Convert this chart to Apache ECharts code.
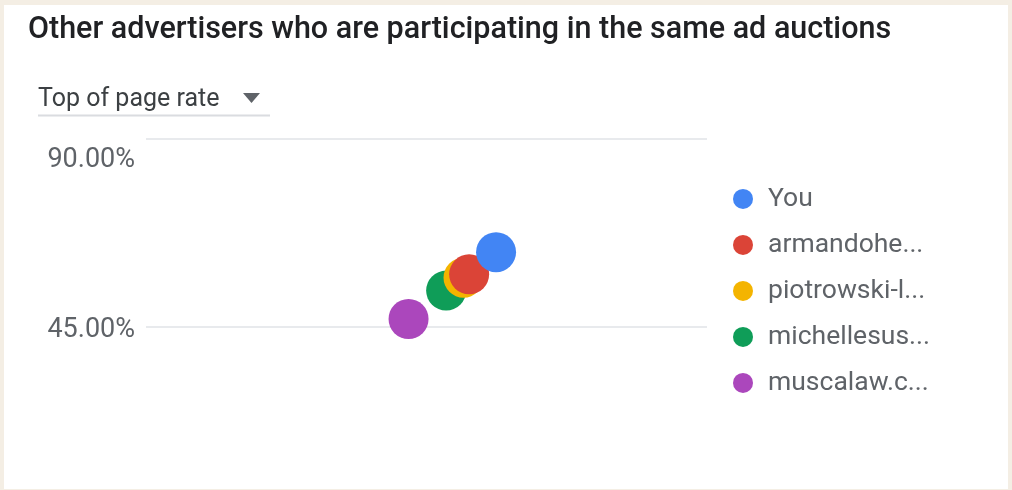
<!DOCTYPE html>
<html>
<head>
<meta charset="utf-8">
<script src="https://cdn.jsdelivr.net/npm/echarts@6/dist/echarts.min.js"></script>
<style>
html, body { margin:0; padding:0; background:#f4eee4; }
#card { position:absolute; left:4px; top:5px; width:1004px; height:484px; background:#fff; }
#chart { position:absolute; left:0; top:0; width:1012px; height:490px; }
</style>
</head>
<body>
<div id="card"></div>
<div id="chart"></div>
<script>
// advertisers in the auction
var names = ['You', 'armandohe...', 'piotrowski-l...', 'michellesus...', 'muscalaw.c...'];
var colors = ['#4285f4', '#db4437', '#f4b400', '#0f9d58', '#ab47bc'];
// x: overlap, y: top of page rate (%)
var xValues = [62.4, 57.6, 56.6, 53.5, 46.8];
var yValues = [62.8, 57.5, 56.7, 53.6, 46.8];
var yTicks = [0, 45, 90];

var mychart = echarts.init(document.getElementById('chart'));
var series = [];
for (var i = 0; i < names.length; i++) {
	series.push({
		name: names[i],
		type: 'scatter',
		symbol: 'circle',
		symbolSize: 40,
		z: 10 - i,
		itemStyle: { color: colors[i], opacity: 1 },
		data: [[xValues[i], yValues[i]]]
	});
}
var option = {
	animation: false,
	color: colors,
	title: {
		text: 'Other advertisers who are participating in the same ad auctions',
		left: 23,
		top: 10,
		textStyle: { fontFamily: 'Roboto', fontSize: 30.5, fontWeight: 500, color: '#202124' }
	},
	graphic: [
		{ type: 'text', left: 38, top: 87, style: { text: 'Top of page rate', font: '25px Roboto', fill: '#3c4043' } },
		{ type: 'polygon', shape: { points: [[243, 93], [260, 93], [251.5, 103]] }, style: { fill: '#5f6368' } },
		{ type: 'line', shape: { x1: 38, y1: 115.5, x2: 270, y2: 115.5 }, style: { stroke: '#dadce0', lineWidth: 2 } }
	],
	legend: {
		orient: 'vertical',
		left: 728,
		top: 180.4,
		icon: 'circle',
		itemWidth: 20,
		itemHeight: 20,
		itemGap: 19,
		textStyle: { fontFamily: 'Roboto', fontSize: 26.5, lineHeight: 20, color: '#5f6368', padding: [0, 0, 0, 10] },
		data: names
	},
	grid: {
		left: 146,
		top: 138.7,
		width: 561,
		height: 375.6,
		outerBoundsMode: 'none',
		containLabel: false
	},
	xAxis: {
		type: 'value',
		min: 0,
		max: 100,
		show: false
	},
	yAxis: {
		type: 'value',
		min: yTicks[0],
		max: yTicks[2],
		interval: yTicks[1] - yTicks[0],
		axisLine: { show: false },
		axisTick: { show: false },
		splitLine: { lineStyle: { color: '#e8eaed', width: 2 } },
		axisLabel: {
			margin: 11,
			fontFamily: 'Roboto',
			fontSize: 27,
			color: '#5f6368',
			formatter: function (v) {
				if (v == yTicks[2]) return '{top|' + v.toFixed(2) + '%}';
				return '{mid|' + v.toFixed(2) + '%}';
			},
			rich: {
				top: { fontFamily: 'Roboto', fontSize: 27, color: '#5f6368', padding: [44, 0, 0, 0] },
				mid: { fontFamily: 'Roboto', fontSize: 27, color: '#5f6368', padding: [7, 0, 0, 0] }
			}
		}
	},
	series: series
};
mychart.setOption(option, true);
</script>
</body>
</html>
